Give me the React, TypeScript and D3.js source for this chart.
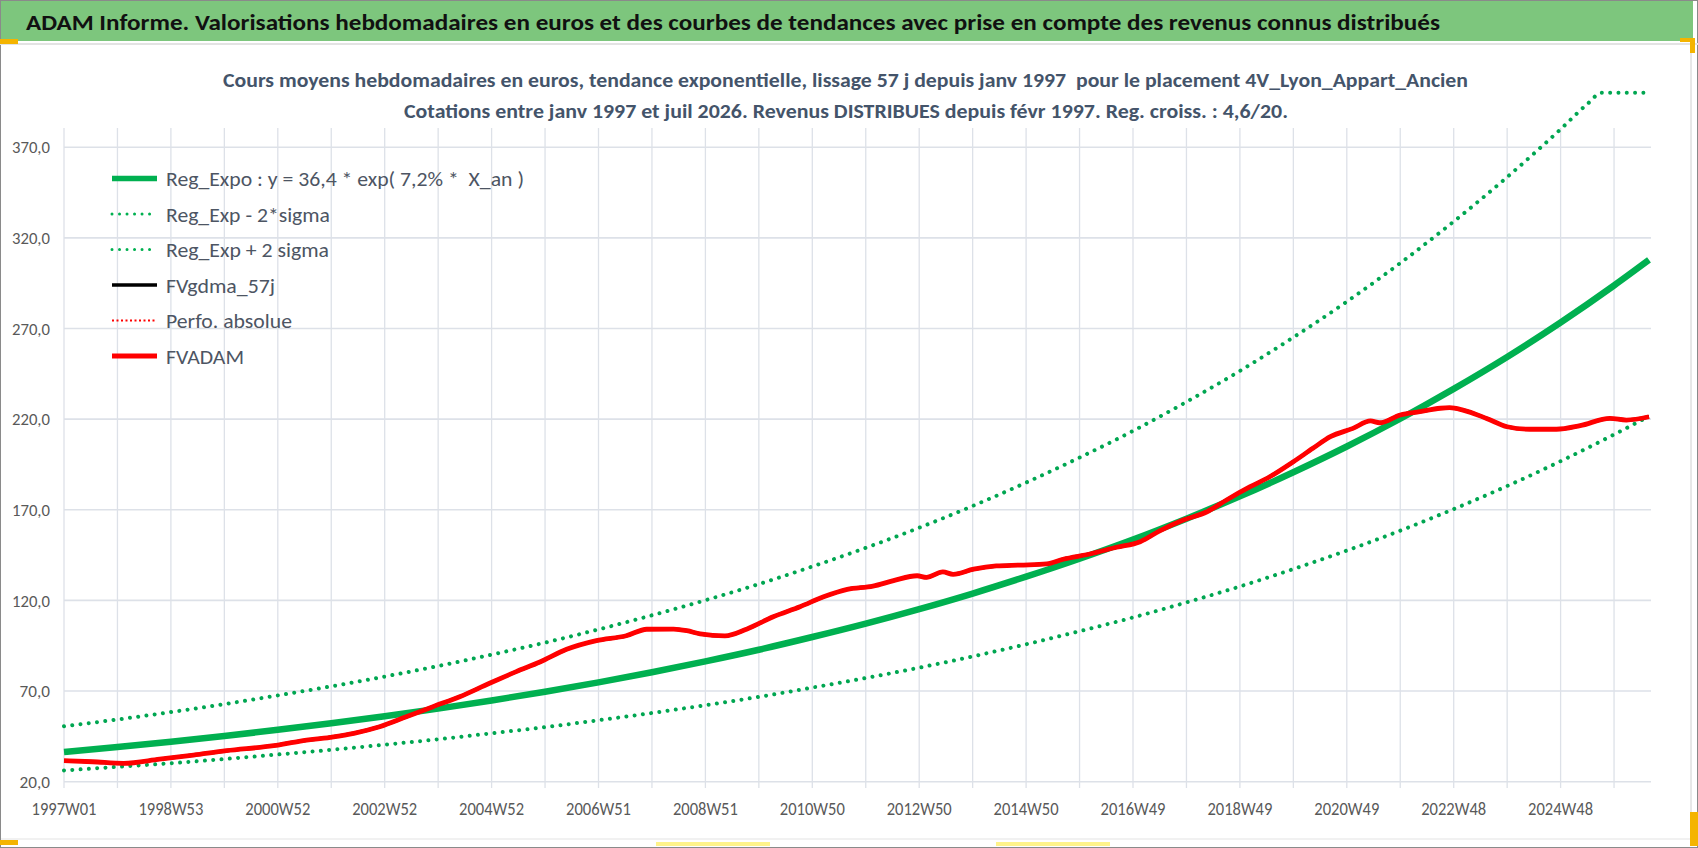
import React from 'react';
import * as d3 from 'd3';

// x axis: weekly categories, one tick label every 104 weeks
const tickLabels = [
  '1997W01', '1998W53', '2000W52', '2002W52', '2004W52', '2006W51', '2008W51', '2010W50',
  '2012W50', '2014W50', '2016W49', '2018W49', '2020W49', '2022W48', '2024W48',
];
const yTicks = [20, 70, 120, 170, 220, 270, 320, 370];

// regression curves read at each yearly gridline (week index)
const regWeeks = [
  0, 52, 104, 156, 208, 260, 312, 364, 416, 468, 520, 572, 624, 676, 728, 780,
  832, 884, 936, 988, 1040, 1092, 1144, 1196, 1248, 1300, 1352, 1404, 1456, 1508, 1542,
];
const regExpo = [
  36.4, 39.1, 42.0, 45.2, 48.6, 52.2, 56.1, 60.3, 64.8, 69.6, 74.8, 80.4, 86.4, 92.8, 99.8, 107.2,
  115.2, 123.8, 133.1, 143.0, 153.6, 165.1, 177.4, 190.7, 204.9, 220.2, 236.7, 254.3, 273.3, 293.7, 307.8,
];
const regLow = [
  26.2, 28.2, 30.2, 32.5, 35.0, 37.6, 40.4, 43.4, 46.7, 50.1, 53.9, 57.9, 62.2, 66.8, 71.9, 77.2,
  82.9, 89.1, 95.8, 103.0, 110.6, 118.9, 127.7, 137.3, 147.5, 158.5, 170.4, 183.1, 196.8, 211.5, 221.6,
];
// upper band runs into the top of the axis (400) near the end
const upWeeks = [
  0, 52, 104, 156, 208, 260, 312, 364, 416, 468, 520, 572, 624, 676, 728, 780,
  832, 884, 936, 988, 1040, 1092, 1144, 1196, 1248, 1300, 1352, 1404, 1456, 1482, 1496, 1508, 1542,
];
const regHigh = [
  50.6, 54.3, 58.4, 62.8, 67.6, 72.6, 78.0, 83.8, 90.1, 96.7, 104.0, 111.8, 120.1, 129.0, 138.7, 149.0,
  160.1, 172.1, 185.0, 198.8, 213.5, 229.5, 246.6, 265.1, 284.8, 306.1, 329.0, 353.5, 379.9, 393.8, 400, 400, 400,
];

// FVADAM (and FVgdma_57j underneath)
const adamWeeks = [
  0, 28, 58, 93, 126, 158, 204, 230, 259, 282, 307, 333, 359, 385, 414, 440, 463, 489, 518, 547,
  567, 593, 606, 619, 643, 664, 690, 716, 739, 762, 787, 807, 830, 839, 855, 865, 885, 907, 930, 956,
  972, 998, 1024, 1047, 1066, 1089, 1112, 1131, 1154, 1173, 1196, 1215, 1232, 1254, 1271, 1280, 1300,
  1319, 1339, 1348, 1361, 1384, 1404, 1426, 1452, 1475, 1504, 1520, 1542,
];
const adamValues = [
  31.6, 31.0, 30.1, 32.4, 34.7, 37.1, 39.9, 42.4, 44.5, 46.7, 50.3, 55.8, 61.4, 66.9, 74.3, 80.7, 86.0, 93.0, 97.8, 100.5,
  104.1, 104.2, 103.3, 101.5, 100.4, 104.1, 111.0, 116.5, 122.0, 126.1, 127.9, 130.9, 133.6, 132.7, 135.7, 134.4, 137.2, 139.0, 139.5, 140.1,
  142.7, 145.6, 149.3, 152.4, 158.4, 164.3, 168.9, 175.4, 182.7, 188.2, 196.5, 203.9, 210.3, 214.9, 219.0, 218.0, 222.3,
  224.1, 226.0, 226.3, 225.0, 220.4, 215.8, 214.4, 214.4, 216.4, 220.4, 219.5, 221.3,
];

const legendItems = [
  { label: 'Reg_Expo : y = 36,4 * exp( 7,2% *  X_an )', color: '#00B050', width: 5.5, dash: '', len: 358 },
  { label: 'Reg_Exp - 2*sigma', color: '#00B050', width: 3, dash: 'dot', len: 164 },
  { label: 'Reg_Exp + 2 sigma', color: '#00B050', width: 3, dash: 'dot', len: 163 },
  { label: 'FVgdma_57j', color: '#000000', width: 3.5, dash: '', len: 109 },
  { label: 'Perfo. absolue', color: '#FF0000', width: 2, dash: 'small', len: 126 },
  { label: 'FVADAM', color: '#FF0000', width: 5, dash: '', len: 78 },
];

const W = 1698;
const H = 848;
const FONT = "Carlito, Lato, 'Open Sans', sans-serif";

const App: React.FC = () => {
  const x = d3.scaleLinear().domain([0, 1542]).range([64, 1649]);
  const y = d3.scaleLinear().domain([20, 400]).range([781.7, 92.8]);

  const line = d3
    .line<[number, number]>()
    .x(d => x(d[0]))
    .y(d => y(d[1]))
    .curve(d3.curveMonotoneX);

  const regPts = regWeeks.map((w, i) => [w, regExpo[i]] as [number, number]);
  const lowPts = regWeeks.map((w, i) => [w, regLow[i]] as [number, number]);
  const highPts = upWeeks.map((w, i) => [w, regHigh[i]] as [number, number]);
  const adamPts = adamWeeks.map((w, i) => [w, adamValues[i]] as [number, number]);

  const gridWeeks = d3.range(0, 1509, 52);
  const gridTop = 128;
  const gridBottom = 788;

  return (
    <div style={{ position: 'absolute', left: 0, top: 0 }}>
      <svg width={W} height={H} style={{ display: 'block', background: '#ffffff' }}>
        {/* frame and title bar */}
        <rect x={0.5} y={0.5} width={W - 1} height={H - 1} fill="#ffffff" stroke="#8a8a8a" />
        <rect x={1} y={1} width={1692} height={40} fill="#7DC67D" />
        <line x1={0} x2={W} y1={44} y2={44} stroke="#E3E3E3" strokeWidth={2} />
        <line x1={1691} x2={1691} y1={45} y2={839} stroke="#D0D0D0" />
        <line x1={1} x2={1691} y1={839} y2={839} stroke="#E3E3E3" />
        <rect x={0} y={39} width={18} height={5} fill="#F4B400" />
        <rect x={1680} y={38} width={14} height={4} fill="#F4B400" />
        <rect x={1690} y={38} width={5} height={15} fill="#F4B400" />
        <rect x={0} y={840} width={18} height={5} fill="#F4B400" />
        <rect x={1690} y={812} width={8} height={34} fill="#F4B400" />
        <rect x={656} y={842} width={114} height={4} fill="#FFF38A" />
        <rect x={996} y={842} width={114} height={4} fill="#FFF38A" />
        <text
          x={26}
          y={30}
          fontFamily={FONT}
          fontSize={23}
          fontWeight="bold"
          fill="#111111"
          textLength={1414}
          lengthAdjust="spacingAndGlyphs"
        >
          ADAM Informe. Valorisations hebdomadaires en euros et des courbes de tendances avec prise en compte des revenus connus distribués
        </text>

        {/* chart title */}
        <text
          x={223}
          y={86.7}
          fontFamily={FONT}
          fontSize={21}
          fontWeight="bold"
          fill="#44546A"
          textLength={1245}
          lengthAdjust="spacingAndGlyphs"
          style={{ whiteSpace: 'pre' }}
        >
          Cours moyens hebdomadaires en euros, tendance exponentielle, lissage 57 j depuis janv 1997  pour le placement 4V_Lyon_Appart_Ancien
        </text>
        <text
          x={404}
          y={118.3}
          fontFamily={FONT}
          fontSize={21}
          fontWeight="bold"
          fill="#44546A"
          textLength={884}
          lengthAdjust="spacingAndGlyphs"
        >
          Cotations entre janv 1997 et juil 2026. Revenus DISTRIBUES depuis févr 1997. Reg. croiss. : 4,6/20.
        </text>

        {/* gridlines */}
        {gridWeeks.map(w => (
          <line key={`v${w}`} x1={x(w)} x2={x(w)} y1={gridTop} y2={gridBottom} stroke="#DDE1E8" strokeWidth={1.3} />
        ))}
        {yTicks.map(v => (
          <line key={`h${v}`} x1={64} x2={1651} y1={y(v)} y2={y(v)} stroke="#DDE1E8" strokeWidth={1.6} />
        ))}

        {/* axis labels */}
        {yTicks.map(v => {
          const label = d3.format('.1f')(v).replace('.', ',');
          return (
            <text
              key={`yl${v}`}
              x={50}
              y={y(v)}
              dy="0.36em"
              textAnchor="end"
              fontFamily={FONT}
              fontSize={17}
              fill="#595959"
              textLength={label.length * 7.6}
              lengthAdjust="spacingAndGlyphs"
            >
              {label}
            </text>
          );
        })}
        {tickLabels.map((t, i) => (
          <text
            key={t}
            x={x(i * 104)}
            y={814.5}
            textAnchor="middle"
            fontFamily={FONT}
            fontSize={17.5}
            fill="#595959"
            textLength={65}
            lengthAdjust="spacingAndGlyphs"
          >
            {t}
          </text>
        ))}

        {/* series */}
        <path d={line(regPts) || ''} fill="none" stroke="#00B050" strokeWidth={6.5} />
        <path
          d={line(lowPts) || ''}
          fill="none"
          stroke="#00A651"
          strokeWidth={4}
          strokeDasharray="0.01 8.3"
          strokeLinecap="round"
        />
        <path
          d={line(highPts) || ''}
          fill="none"
          stroke="#00A651"
          strokeWidth={4}
          strokeDasharray="0.01 8.3"
          strokeLinecap="round"
        />
        <path d={line(adamPts) || ''} fill="none" stroke="#000000" strokeWidth={3.5} />
        <path d={line(adamPts) || ''} fill="none" stroke="#FF0000" strokeWidth={4.8} strokeLinejoin="round" />

        {/* legend */}
        {legendItems.map((it, i) => {
          const ly = 178.5 + i * 35.5;
          return (
            <g key={it.label}>
              <line
                x1={112}
                x2={157}
                y1={ly}
                y2={ly}
                stroke={it.color}
                strokeWidth={it.width}
                strokeDasharray={it.dash === 'dot' ? '0.01 7.5' : it.dash === 'small' ? '2 2.5' : undefined}
                strokeLinecap={it.dash === 'dot' ? 'round' : 'butt'}
              />
              <text
                x={166}
                y={ly}
                dy="0.36em"
                fontFamily={FONT}
                fontSize={21}
                fill="#4D5563"
                textLength={it.len}
                lengthAdjust="spacingAndGlyphs"
                style={{ whiteSpace: 'pre' }}
              >
                {it.label}
              </text>
            </g>
          );
        })}
      </svg>
    </div>
  );
};

export default App;
